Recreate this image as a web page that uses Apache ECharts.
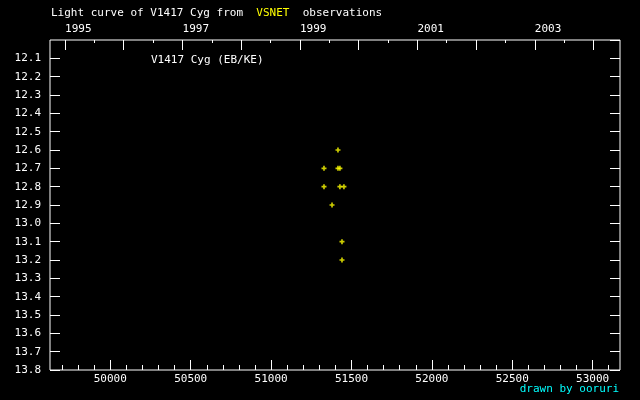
<!DOCTYPE html>
<html>
<head>
<meta charset="utf-8">
<script src="https://cdn.jsdelivr.net/npm/echarts@6/dist/echarts.min.js"></script>
<style>
    html, body { margin: 0; background: #000; }
    #chart { width: 640px; height: 400px; }
</style>
</head>
<body>
<div id="chart"></div>
<script>
// observations (JD - 2400000, visual magnitude)
const jd = [51416, 51329, 51416, 51428, 51329, 51428, 51453, 51379, 51441, 51441]
const mag = [12.6, 12.7, 12.7, 12.7, 12.8, 12.8, 12.8, 12.9, 13.1, 13.2]

// axis ticks
const jdMajor = [50000, 50500, 51000, 51500, 52000, 52500, 53000]
const jdMinor = [49700, 49800, 49900, 50100, 50200, 50300, 50400, 50600, 50700, 50800, 50900,
    51100, 51200, 51300, 51400, 51600, 51700, 51800, 51900, 52100, 52200, 52300, 52400,
    52600, 52700, 52800, 52900, 53100]
const years = [1995, 1996, 1997, 1998, 1999, 2000, 2001, 2002, 2003, 2004]
const yearLabels = [1995, 1997, 1999, 2001, 2003]

const JD_MIN = 49625
const JD_MAX = 53170

// calendar date -> JD - 2400000
const toJd = (y, m, d) => Date.UTC(y, m, d) / 86400000 + 40587.5
const yearJd = years.map(y => toJd(y, 0, 1))
const halfJd = years.map(y => toJd(y, 6, 2))
const labelJd = yearLabels.map(y => toJd(y, 0, 1))

const FONT = 'DejaVu Sans Mono'
const FONT_CSS = '11px "DejaVu Sans Mono"'
const white = '#ffffff'

const baseX = {
    type: 'value',
    min: JD_MIN,
    max: JD_MAX,
    axisLine: { show: false },
    splitLine: { show: false },
}

const chart = echarts.init(document.getElementById('chart'))
chart.setOption({
    backgroundColor: '#000',
    animation: false,
    grid: {
        left: 50, right: 20, top: 40, bottom: 30,
        show: true, borderColor: white, borderWidth: 1, backgroundColor: 'transparent',
    },
    graphic: [
        {
            type: 'text', left: 51, top: 8,
            style: {
                text: '{a|Light curve of V1417 Cyg from}  {b|VSNET}  {a|observations}',
                font: FONT_CSS,
                rich: {
                    a: { fill: white, fontFamily: FONT, fontSize: 11 },
                    b: { fill: '#ffff00', fontFamily: FONT, fontSize: 11 },
                },
            },
        },
        {
            type: 'text', left: 151, top: 55,
            style: { text: 'V1417 Cyg (EB/KE)', fill: white, font: FONT_CSS },
        },
        {
            type: 'text', right: 21, top: 384,
            style: { text: 'drawn by ooruri', fill: '#00ffff', font: FONT_CSS },
        },
    ],
    xAxis: [
        {
            ...baseX, position: 'bottom',
            axisTick: { inside: true, length: 10, lineStyle: { color: white }, customValues: jdMajor },
            axisLabel: {
                color: white, fontFamily: FONT, fontSize: 11, margin: 4, customValues: jdMajor,
                formatter: v => String(v),
            },
        },
        {
            ...baseX, position: 'bottom',
            axisTick: { inside: true, length: 5, lineStyle: { color: white }, customValues: jdMinor },
            axisLabel: { show: false },
        },
        {
            ...baseX, position: 'top',
            axisTick: { inside: true, length: 10, lineStyle: { color: white }, customValues: yearJd },
            axisLabel: {
                color: white, fontFamily: FONT, fontSize: 11, margin: 5, align: 'left',
                customValues: labelJd,
                formatter: v => String(yearLabels[labelJd.indexOf(v)]),
            },
        },
        {
            ...baseX, position: 'top',
            axisTick: { inside: true, length: 3, lineStyle: { color: white }, customValues: halfJd },
            axisLabel: { show: false },
        },
    ],
    yAxis: [
        {
            type: 'value', inverse: true, min: 12.0, max: 13.8, interval: 0.1,
            position: 'left',
            axisLine: { show: false },
            splitLine: { show: false },
            axisTick: { inside: true, length: 10, lineStyle: { color: white } },
            axisLabel: {
                color: white, fontFamily: FONT, fontSize: 11, margin: 9,
                showMinLabel: false,
                formatter: v => v.toFixed(1),
            },
        },
        {
            type: 'value', inverse: true, min: 12.0, max: 13.8, interval: 0.1,
            position: 'right',
            axisLine: { show: false },
            splitLine: { show: false },
            axisTick: { inside: true, length: 10, lineStyle: { color: white } },
            axisLabel: { show: false },
        },
    ],
    series: [
        {
            type: 'scatter',
            xAxisIndex: 0,
            yAxisIndex: 0,
            symbol: 'path://M1,0H2V1H3V2H2V3H1V2H0V1H1Z',
            symbolSize: 5,
            itemStyle: { color: '#ffff00' },
            data: jd.map((x, i) => [x, mag[i]]),
        },
    ],
})
</script>
</body>
</html>
